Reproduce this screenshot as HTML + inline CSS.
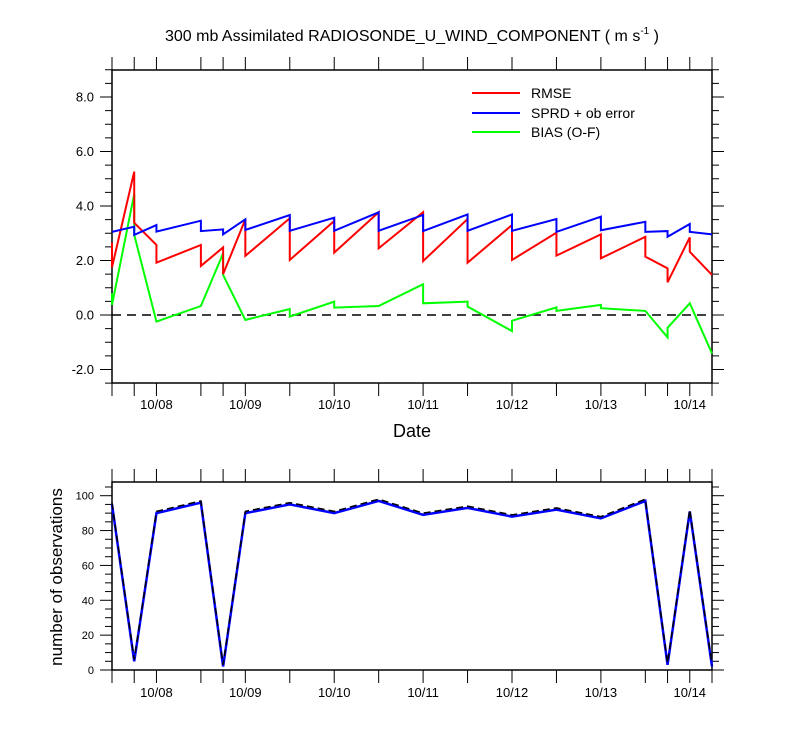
<!DOCTYPE html>
<html><head><meta charset="utf-8">
<style>
html,body{margin:0;padding:0;background:#fff;}
svg{display:block;font-family:"Liberation Sans",sans-serif;}
</style></head>
<body>
<svg id="chart" width="800" height="750" viewBox="0 0 800 750">
<text x="412" y="41" text-anchor="middle" font-size="16">300 mb Assimilated RADIOSONDE_U_WIND_COMPONENT ( m s<tspan font-size="10" dy="-7">-1</tspan><tspan dy="7"> )</tspan></text>
<text x="412" y="437" text-anchor="middle" font-size="18">Date</text>
<text transform="translate(62,577) rotate(-90)" text-anchor="middle" font-size="17">number of observations</text>
<g id="g"></g>
</svg>
<script>
// hours since 10/07 12Z
const hours = [0,6,12,24,30,36,48,60,72,84,96,108,120,132,144,150,156,162];
const dateLabels = ['10/08','10/09','10/10','10/11','10/12','10/13','10/14'];
const dateLabelHours = [12,36,60,84,108,132,156];
const rmseA = [2.65,5.26,2.57,2.57,2.48,3.51,3.55,3.45,3.77,3.77,3.52,3.30,3.02,2.96,2.87,1.71,2.85,1.47];
const rmseB = [1.75,3.38,1.92,1.80,1.50,2.17,2.02,2.29,2.45,1.98,1.92,2.02,2.18,2.08,2.14,1.20,2.32,1.47];
const sprdA = [3.05,3.24,3.30,3.46,3.14,3.51,3.67,3.57,3.77,3.67,3.69,3.69,3.52,3.61,3.42,3.08,3.34,2.96];
const sprdB = [3.05,2.94,3.06,3.08,2.96,3.12,3.09,3.09,3.09,3.08,3.09,3.09,3.05,3.11,3.05,2.87,3.05,2.96];
const biasA = [0.80,4.44,-0.24,0.33,2.26,-0.18,0.22,0.49,0.33,1.13,0.49,-0.59,0.28,0.37,0.15,-0.82,0.43,-1.41];
const biasB = [0.37,2.94,-0.24,0.33,1.47,-0.18,-0.06,0.27,0.33,0.43,0.31,-0.21,0.15,0.25,0.15,-0.47,0.43,-1.41];
const nobsUsed = [95,5,90,96,2,90,95,90,97,89,93,88,92,87,97,3,91,2];
const nobsTotal = [96,6,91,97,3,91,96,91,98,90,94,89,93,88,98,4,92,3];
const topTicks = [-2,0,2,4,6,8];
const botTicks = [0,20,40,60,80,100];

const NS='http://www.w3.org/2000/svg';
const g=document.getElementById('g');
function el(t,a,p){const e=document.createElementNS(NS,t);for(const k in a)e.setAttribute(k,a[k]);(p||g).appendChild(e);return e;}
const L=112,R=712;
const X=h=>L+h*(R-L)/162;
const T0=70,T1=383,Y1=v=>315-v*27.25;
const B0=482,B1=670,Y2=v=>670-v*1.743;

// top frame
let f=el('rect',{x:L,y:T0,width:R-L,height:T1-T0,fill:'none',stroke:'#000','stroke-width':1.5});


f=el('rect',{x:L,y:B0,width:R-L,height:B1-B0,fill:'none',stroke:'#000','stroke-width':1.5});



// x ticks
hours.forEach(h=>{
  const x=X(h);
  for(const [y0,y1] of [[T1,T1+13],[T0,T0-13],[B1,B1+13],[B0,B0-13]]){
    const t=el('line',{x1:x,x2:x,y1:y0,y2:y1,stroke:'#000','stroke-width':1});
    
    
  }
});
dateLabels.forEach((s,i)=>{
  for(const y of [409,697]){
    const t=el('text',{x:X(dateLabelHours[i]),y:y,'text-anchor':'middle','font-size':13});
    t.textContent=s;
    
    
  }
});
// top y ticks
for(let v=-2.5;v<=9.001;v+=0.5){
  const maj=Math.abs(v%2)<1e-6, len=maj?12:7, y=Y1(v);
  for(const [x0,s] of [[L,-1],[R,1]]){
    const t=el('line',{x1:x0,x2:x0+s*len,y1:y,y2:y,stroke:'#000','stroke-width':1});
    
    
  }
}
topTicks.forEach(v=>{
  const t=el('text',{x:L-18,y:Y1(v)+4.5,'text-anchor':'end','font-size':13});
  t.textContent=v.toFixed(1);
  
  
});
// bottom y ticks
for(let v=0;v<=105;v+=5){
  const maj=v%20===0, len=maj?12:7, y=Y2(v);
  for(const [x0,s] of [[L,-1],[R,1]]){
    const t=el('line',{x1:x0,x2:x0+s*len,y1:y,y2:y,stroke:'#000','stroke-width':1});
    
    
  }
}
botTicks.forEach(v=>{
  const t=el('text',{x:L-18,y:Y2(v)+4,'text-anchor':'end','font-size':11});
  t.textContent=v;
  
  
});
// zero line
const z=el('line',{x1:L,x2:R,y1:Y1(0),y2:Y1(0),stroke:'#000','stroke-width':1.5,'stroke-dasharray':'9,6'});



function saw(a,b){let p=[];hours.forEach((h,i)=>{p.push(X(h)+','+Y1(a[i]));p.push(X(h)+','+Y1(b[i]));});return p.join(' ');}
const series=[[biasA,biasB,'#00ff00','bias-line'],[rmseA,rmseB,'#ff0000','rmse-line'],[sprdA,sprdB,'#0000ff','sprd-line']];
series.forEach(s=>{
  const p=el('polyline',{points:saw(s[0],s[1]),fill:'none',stroke:s[2],'stroke-width':2,'stroke-linejoin':'miter'});
  
  
});
// bottom lines
let p=el('polyline',{points:hours.map((h,i)=>X(h)+','+Y2(nobsUsed[i])).join(' '),fill:'none',stroke:'#0000ff','stroke-width':2.5});


p=el('polyline',{points:hours.map((h,i)=>X(h)+','+Y2(nobsTotal[i])).join(' '),fill:'none',stroke:'#000','stroke-width':1.5,'stroke-dasharray':'7,4'});



// legend
const leg=[['RMSE','#ff0000',93],['SPRD + ob error','#0000ff',113],['BIAS (O-F)','#00ff00',132]];
leg.forEach(l=>{
  const ln=el('line',{x1:472,x2:520,y1:l[2],y2:l[2],stroke:l[1],'stroke-width':2});
  
  
  const t=el('text',{x:531,y:l[2]+5,'font-size':14});
  t.textContent=l[0];
  
  
});
</script>
</body></html>
